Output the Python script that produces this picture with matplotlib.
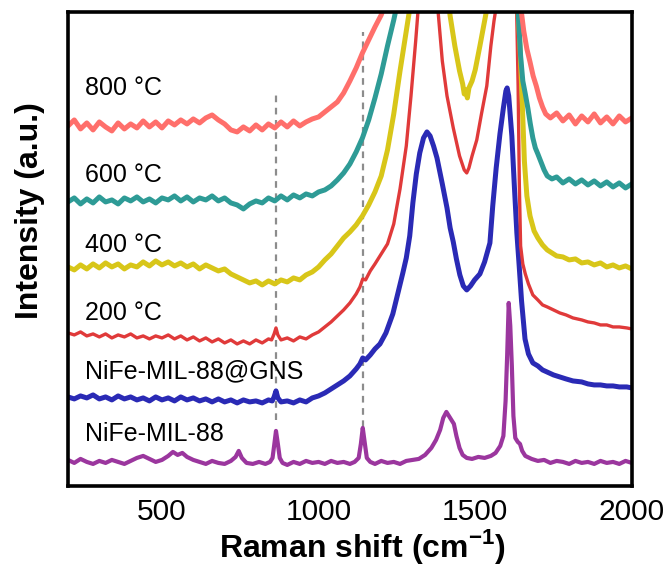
import numpy as np
import matplotlib.pyplot as plt

plt.rcParams['font.family'] = ['Liberation Sans', 'DejaVu Sans']
plt.rcParams['mathtext.fontset'] = 'custom'
plt.rcParams['mathtext.rm'] = 'Liberation Sans:bold'
plt.rcParams['mathtext.bf'] = 'Liberation Sans:bold'

# Raman spectra (intensity in arbitrary units, offset per sample)
x_800 = [200, 220, 240, 260, 280, 300, 320, 340, 360, 380, 400, 420, 440, 460, 480, 500,
         520, 540, 560, 580, 600, 620, 640, 660, 680, 700, 720, 740, 760, 780, 800, 820,
         840, 860, 880, 900, 920, 940, 960, 980, 1000, 1020, 1040, 1060, 1080, 1100, 1120,
         1140, 1160, 1180, 1200, 1220, 1260, 1300, 1350, 1420, 1480, 1540, 1600, 1630, 1645,
         1655, 1665, 1675, 1685, 1695, 1705, 1715, 1725, 1740, 1760, 1780, 1800, 1820, 1840,
         1860, 1880, 1900, 1920, 1940, 1960, 1980, 2000]
y_800 = [360, 366, 357, 363, 356, 364, 359, 355, 363, 357, 362, 358, 365, 359, 364, 358,
         365, 361, 366, 362, 367, 363, 368, 371, 366, 362, 356, 354, 359, 355, 361, 356,
         362, 358, 364, 359, 365, 360, 364, 367, 369, 374, 379, 384, 393, 405, 418,
         433, 446, 459, 471, 488, 530, 580, 620, 580, 550, 580, 650, 560, 480,
         455, 437, 424, 410, 400, 388, 379, 372, 368, 373, 365, 371, 362, 370,
         364, 372, 363, 369, 362, 370, 364, 368]

x_600 = [200, 220, 240, 260, 280, 300, 320, 340, 360, 380, 400, 420, 440, 460, 480, 500,
         520, 540, 560, 580, 600, 620, 640, 660, 680, 700, 720, 740, 760, 780, 800, 820,
         840, 860, 880, 900, 920, 940, 960, 980, 1000, 1020, 1040, 1060, 1080, 1100, 1120,
         1140, 1160, 1180, 1200, 1220, 1240, 1260, 1300, 1350, 1450, 1550, 1620, 1636, 1645,
         1652, 1660, 1668, 1676, 1684, 1692, 1700, 1710, 1720, 1730, 1745, 1760, 1780, 1800,
         1820, 1840, 1860, 1880, 1900, 1920, 1940, 1960, 1980, 2000]
y_600 = [284, 288, 282, 287, 283, 289, 284, 286, 282, 288, 285, 289, 284, 287, 283, 288,
         286, 290, 285, 289, 284, 288, 286, 290, 285, 288, 283, 281, 277, 282, 285, 283,
         288, 285, 290, 286, 291, 288, 292, 290, 294, 296, 300, 306, 313, 322, 334,
         348, 366, 388, 412, 440, 466, 495, 560, 640, 600, 650, 600, 480, 430,
         405, 392, 378, 362, 348, 338, 332, 324, 316, 310, 307, 309, 303, 307,
         302, 306, 301, 305, 300, 304, 299, 303, 298, 302]

x_400 = [200, 220, 240, 260, 280, 300, 320, 340, 360, 380, 400, 420, 440, 460, 480, 500,
         520, 540, 560, 580, 600, 620, 640, 660, 680, 700, 720, 740, 760, 780, 800, 820,
         840, 860, 880, 900, 920, 940, 960, 980, 1000, 1020, 1040, 1060, 1080, 1100, 1120,
         1140, 1160, 1180, 1200, 1220, 1240, 1260, 1280, 1295, 1340, 1400, 1420, 1435, 1450,
         1460, 1465, 1470, 1475, 1480, 1490, 1500, 1515, 1530, 1545, 1580, 1620, 1636, 1643,
         1650, 1657, 1665, 1675, 1688, 1700, 1715, 1730, 1745, 1760, 1780, 1800, 1820, 1840,
         1860, 1880, 1900, 1920, 1940, 1960, 1980, 2000]
y_400 = [219, 216, 221, 217, 222, 218, 223, 219, 222, 217, 221, 219, 224, 220, 225, 221,
         224, 220, 223, 219, 222, 217, 221, 218, 215, 217, 212, 209, 206, 203, 205, 201,
         205, 202, 206, 204, 208, 206, 211, 214, 219, 226, 232, 240, 248, 254, 261,
         270, 281, 294, 310, 336, 372, 415, 455, 485, 560, 520, 470, 440, 415,
         402, 392, 396, 388, 398, 405, 416, 440, 465, 490, 560, 580, 480, 440,
         385, 325, 290, 270, 255, 248, 241, 236, 233, 230, 229, 226, 227, 223,
         224, 221, 223, 219, 221, 218, 220, 217]

x_200 = [200, 220, 240, 260, 280, 300, 320, 340, 360, 380, 400, 420, 440, 460, 480, 500,
         520, 540, 560, 580, 600, 620, 640, 660, 680, 700, 720, 740, 760, 780, 800, 820,
         840, 850, 858, 864, 870, 880, 900, 920, 940, 960, 980, 1000, 1020, 1040, 1060,
         1080, 1100, 1120, 1132, 1141, 1150, 1165, 1180, 1200, 1220, 1240, 1260, 1280, 1295,
         1310, 1320, 1350, 1380, 1395, 1410, 1430, 1450, 1465, 1473, 1480, 1490, 1505, 1520,
         1537, 1550, 1560, 1570, 1600, 1632, 1637, 1641, 1645, 1652, 1660, 1670, 1684, 1700,
         1715, 1730, 1750, 1770, 1790, 1812, 1840, 1860, 1880, 1900, 1920, 1940, 1960, 1984,
         2000]
y_200 = [153, 151, 154, 150, 152, 149, 152, 148, 151, 149, 152, 148, 150, 147, 150, 148,
         151, 147, 150, 146, 149, 145, 148, 144, 147, 143, 146, 142, 145, 142, 146, 143,
         147, 146, 152, 158, 151, 146, 148, 145, 149, 147, 151, 154, 159, 164, 170,
         176, 183, 192, 199, 207, 206, 215, 222, 232, 242, 262, 297, 340, 390,
         445, 485, 560, 480, 425, 390, 358, 330, 316, 313, 318, 330, 346, 372,
         400, 440, 465, 485, 560, 480, 400, 300, 240, 222, 212, 202, 191, 186,
         181, 179, 176, 173, 171, 168, 166, 164, 163, 161, 161, 159, 159, 158,
         157]

x_gns = [200, 220, 240, 260, 280, 300, 320, 340, 360, 380, 400, 420, 440, 460, 480, 500,
         520, 540, 560, 580, 600, 620, 640, 660, 680, 700, 720, 740, 760, 780, 800, 820,
         840, 852, 858, 864, 870, 880, 900, 920, 940, 960, 980, 1000, 1020, 1040, 1060,
         1080, 1100, 1120, 1132, 1141, 1150, 1165, 1180, 1196, 1215, 1237, 1255, 1269, 1280,
         1291, 1301, 1312, 1323, 1335, 1346, 1356, 1367, 1378, 1395, 1410, 1420, 1430, 1440,
         1451, 1462, 1473, 1485, 1498, 1515, 1530, 1547, 1556, 1567, 1579, 1590, 1598, 1602,
         1607, 1617, 1625, 1633, 1640, 1648, 1659, 1670, 1684, 1700, 1715, 1729, 1750, 1770,
         1790, 1812, 1840, 1860, 1880, 1900, 1920, 1940, 1960, 1984, 2000]
y_gns = [89, 87, 90, 88, 91, 87, 89, 86, 90, 87, 89, 86, 88, 85, 89, 86,
         88, 85, 89, 86, 88, 85, 87, 84, 87, 84, 86, 83, 86, 84, 85, 83,
         86, 85, 89, 95, 88, 84, 85, 83, 86, 84, 88, 90, 93, 97, 101,
         105, 110, 117, 122, 128, 126, 131, 137, 142, 153, 172, 195, 213, 228,
         250, 283, 312, 333, 348, 354, 350, 340, 328, 302, 278, 258, 244, 227,
         211, 200, 196, 200, 206, 212, 224, 243, 280, 318, 352, 378, 395, 398,
         390, 350, 300, 253, 222, 185, 147, 132, 123, 120, 116, 114, 111, 109,
         107, 105, 104, 102, 101, 101, 100, 100, 99, 99, 98]

x_mil = [200, 220, 240, 260, 280, 300, 320, 340, 360, 380, 400, 420, 440, 460, 480, 500,
         520, 535, 550, 565, 580, 600, 620, 640, 660, 680, 700, 720, 735, 745, 755, 770,
         790, 810, 830, 845, 853, 858, 864, 870, 876, 885, 900, 920, 940, 960, 980, 1000,
         1020, 1040, 1060, 1080, 1100, 1115, 1128, 1135, 1141, 1147, 1154, 1165, 1180, 1200,
         1220, 1240, 1260, 1280, 1300, 1320, 1340, 1360, 1375, 1388, 1398, 1408, 1416, 1424,
         1432, 1440, 1450, 1460, 1473, 1490, 1510, 1530, 1550, 1565, 1580, 1590, 1597, 1602,
         1607, 1612, 1617, 1622, 1628, 1636, 1643, 1650, 1660, 1680, 1700, 1720, 1740, 1760,
         1780, 1800, 1820, 1840, 1860, 1880, 1900, 1920, 1940, 1960, 1980, 2000]
y_mil = [26, 23, 27, 24, 22, 25, 23, 26, 24, 22, 25, 28, 30, 27, 24, 26,
         30, 34, 31, 33, 29, 26, 24, 22, 25, 23, 22, 25, 29, 35, 28, 23,
         22, 24, 22, 24, 28, 40, 55, 42, 28, 23, 21, 24, 22, 25, 23, 24,
         22, 25, 23, 24, 22, 24, 28, 42, 58, 44, 28, 24, 22, 25,
         23, 24, 22, 25, 26, 27, 31, 38, 46, 56, 68, 74, 70, 66,
         62, 50, 38, 31, 28, 27, 29, 28, 30, 33, 40, 50, 85, 130,
         183, 160, 120, 70, 48, 44, 42, 35, 30, 27, 25, 26, 23, 25,
         24, 22, 25, 23, 24, 22, 25, 23, 24, 22, 25, 23]

labels = ['800 °C', '600 °C', '400 °C', '200 °C', 'NiFe-MIL-88@GNS', 'NiFe-MIL-88']
label_y = [0.840, 0.656, 0.508, 0.365, 0.241, 0.110]
marker_peaks = [864, 1141]  # dashed guide lines

fig = plt.figure(figsize=(6.7, 5.69), dpi=100)
ax = fig.add_axes([0.1015, 0.146, 0.8415, 0.833])

# bottom to top
ax.plot(x_mil, y_mil, color='#9B369E', lw=3.0)
ax.plot(x_gns, y_gns, color='#2A2AB5', lw=3.6)
ax.plot(x_200, y_200, color='#E03A3A', lw=2.4)
ax.plot(x_400, y_400, color='#D8C619', lw=3.6)
ax.plot(x_600, y_600, color='#2E9B96', lw=3.6)
ax.plot(x_800, y_800, color='#FF6F6B', lw=3.6)

ax.plot([marker_peaks[0]] * 2, [66, 391], color='#8C8C8C', lw=1.6, ls=(0, (3, 2.5)), zorder=0)
ax.plot([marker_peaks[1]] * 2, [59, 454], color='#8C8C8C', lw=1.6, ls=(0, (3, 2.5)), zorder=0)

for lab, yy in zip(labels, label_y):
    ax.text(0.030, yy, lab, transform=ax.transAxes, fontsize=18, va='center', ha='left')

ax.set_xlim(200, 2000)
ax.set_ylim(0, 474)
ax.set_xticks([500, 1000, 1500, 2000])
ax.set_yticks([])
ax.tick_params(axis='x', length=0, pad=9, labelsize=21.5)
for sp in ax.spines.values():
    sp.set_linewidth(2.6)

fig.text(362 / 670, 1 - 546 / 569, r'Raman shift (cm$^{\mathbf{-1}}$)', fontsize=23,
         fontweight='bold', ha='center', va='center')
fig.text(30 / 670, 1 - 211 / 569, 'Intensity (a.u.)', fontsize=23, fontweight='bold',
         rotation=90, ha='center', va='center')

fig.savefig('out.png', dpi=100)
